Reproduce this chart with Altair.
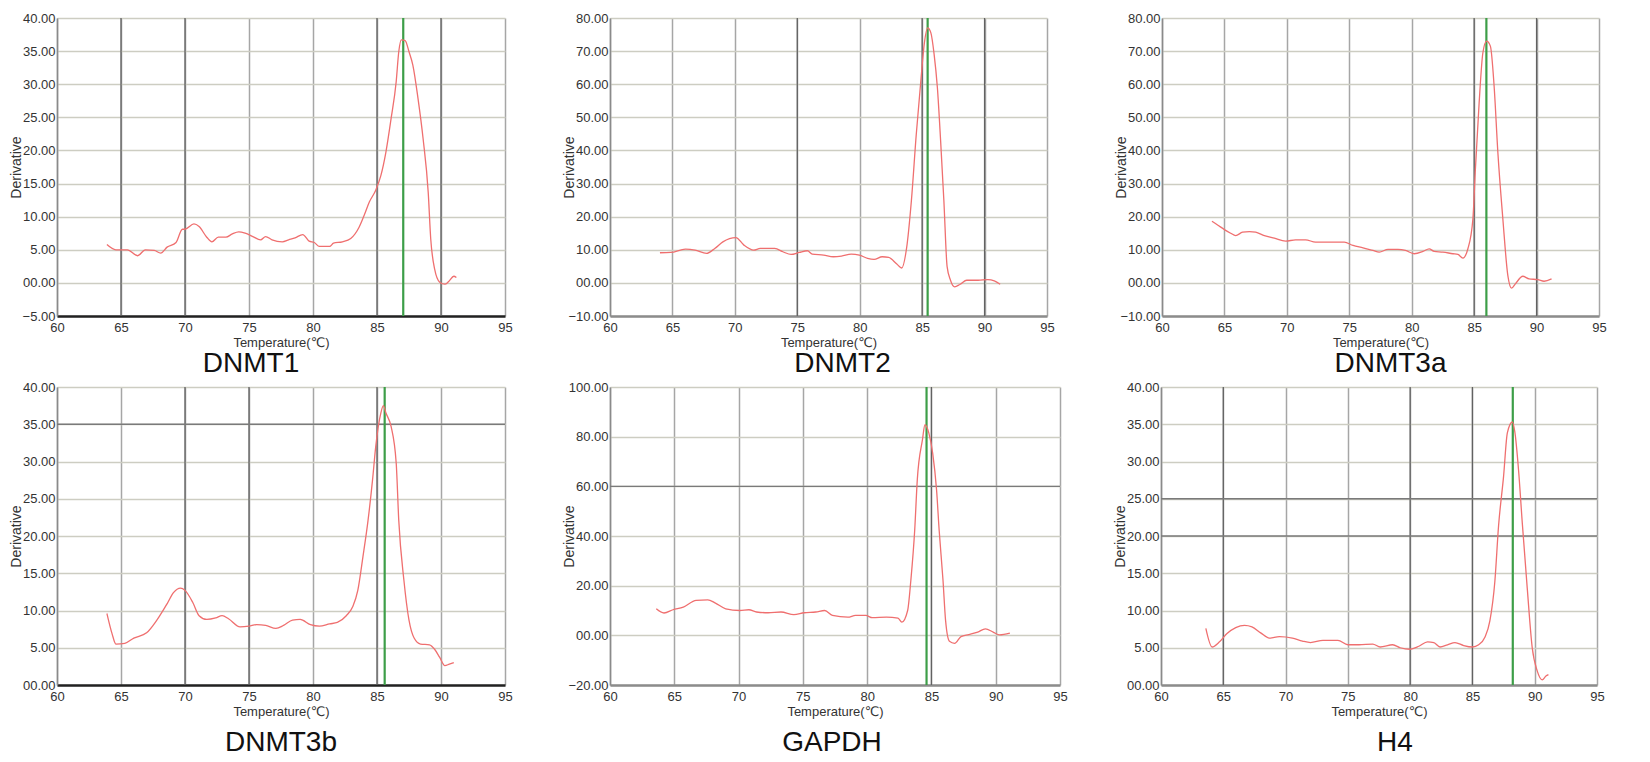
import altair as alt
import pandas as pd

FONT = "Liberation Sans, Arial, DejaVu Sans"

X_TICKS = [60, 65, 70, 75, 80, 85, 90, 95]

# ---------------- DNMT1 ----------------
DNMT1_T = [63.9, 64.6, 65.5, 66.3, 66.9, 67.6, 68.1, 68.6, 69.3, 69.8, 70.0, 70.7, 71.1, 71.7, 72.1,
           72.6, 73.2, 73.7, 74.2, 74.7, 75.3, 75.9, 76.3, 76.8, 77.6, 78.1, 78.6, 79.2, 79.7, 80.1,
           80.5, 81.3, 81.6, 82.3, 82.95, 83.6, 84.0, 84.4, 84.9, 85.3, 85.7, 86.1, 86.5, 86.7, 86.9,
           87.2, 87.5, 87.8, 88.2, 88.6, 89.0, 89.2, 89.5, 89.9, 90.3, 90.6, 91.0, 91.2]
DNMT1_D = [5.8, 5.0, 5.0, 4.1, 5.0, 4.9, 4.5, 5.4, 6.1, 8.1, 8.1, 8.9, 8.5, 6.9, 6.2,
           6.9, 6.9, 7.4, 7.7, 7.5, 7.0, 6.5, 7.0, 6.5, 6.2, 6.5, 6.8, 7.3, 6.3, 6.1,
           5.5, 5.5, 6.0, 6.2, 6.7, 8.4, 10.2, 12.2, 14.0, 16.2, 19.8, 24.8, 30.4, 34.9, 36.7,
           36.6, 34.9, 32.9, 27.9, 21.8, 13.7, 6.6, 2.1, 0.1, -0.2, 0.2, 1.0, 0.8]
DNMT1_PEAK = 87.05
DNMT1_YTICKS = [-5, 0, 5, 10, 15, 20, 25, 30, 35, 40]

# ---------------- DNMT2 ----------------
DNMT2_T = [64.0, 64.87, 66.04, 66.82, 67.73, 68.39, 69.04, 70.08, 70.73, 71.51, 72.03, 73.2, 73.85,
           74.5, 75.16, 75.81, 76.2, 77.11, 77.89, 78.54, 79.32, 79.97, 80.63, 81.15, 81.8, 82.32,
           82.97, 83.36, 83.75, 84.14, 84.53, 84.87, 85.18, 85.44, 85.7, 85.96, 86.22, 86.48, 86.74,
           87.0, 87.27, 87.6, 88.05, 88.57, 89.48, 90.26, 90.78, 91.25]
DNMT2_D = [9.1, 9.2, 10.2, 9.9, 8.9, 10.4, 12.4, 13.7, 11.4, 9.9, 10.4, 10.4, 9.4,
           8.6, 9.2, 9.7, 8.7, 8.4, 7.9, 8.1, 8.7, 8.4, 7.4, 7.1, 7.9, 7.7,
           5.7, 4.5, 10.4, 24.9, 44.9, 59.9, 72.5, 77.0, 75.5, 69.0, 59.0, 42.9, 24.9,
           4.9, 0.8, -1.2, -0.4, 0.8, 0.8, 1.0, 0.6, -0.4]
DNMT2_PEAK = 85.44
DNMT2_YTICKS = [-10, 0, 10, 20, 30, 40, 50, 60, 70, 80]

# ---------------- DNMT3a ----------------
DNMT3A_T = [64.0, 64.45, 65.0, 65.5, 65.9, 66.45, 67.0, 67.5, 68.2, 69.0, 69.9, 70.7, 71.5, 72.3,
            73.4, 74.6, 75.3, 76.1, 76.9, 77.4, 78.1, 78.9, 79.5, 80.2, 80.9, 81.4, 81.8, 82.5,
            83.3, 83.7, 84.1, 84.5, 84.9, 85.1, 85.4, 85.7, 86.0, 86.3, 86.6, 86.9, 87.3, 87.7,
            88.0, 88.3, 88.9, 89.4, 90.1, 90.6, 91.2]
DNMT3A_D = [18.6, 17.5, 16.1, 15.0, 14.3, 15.3, 15.5, 15.3, 14.3, 13.5, 12.6, 13.0, 13.0, 12.3,
            12.3, 12.3, 11.3, 10.6, 9.8, 9.3, 10.1, 10.1, 9.8, 8.8, 9.5, 10.3, 9.5, 9.3,
            8.8, 8.6, 7.5, 10.3, 19.3, 34.3, 54.4, 69.5, 73.0, 71.5, 59.4, 39.4, 19.3, 2.2,
            -1.6, -0.3, 2.0, 1.2, 1.0, 0.5, 1.2]
DNMT3A_PEAK = 85.98
DNMT3A_YTICKS = [-10, 0, 10, 20, 30, 40, 50, 60, 70, 80]

# ---------------- DNMT3b ----------------
DNMT3B_T = [63.9, 64.3, 64.6, 65.3, 66.0, 67.0, 67.8, 68.6, 69.1, 69.65, 70.0, 70.6, 71.1, 71.7,
            72.4, 72.9, 73.4, 74.3, 75.0, 75.6, 76.3, 77.1, 77.7, 78.4, 79.0, 79.8, 80.5, 81.3,
            81.9, 82.6, 83.1, 83.5, 83.9, 84.3, 84.65, 84.9, 85.3, 85.5, 85.7, 86.1, 86.5, 86.7,
            87.1, 87.5, 87.9, 88.4, 89.1, 89.5, 89.9, 90.3, 90.65, 91.0]
DNMT3B_D = [9.6, 6.9, 5.5, 5.6, 6.3, 7.0, 8.7, 10.9, 12.4, 13.0, 12.7, 11.1, 9.3, 8.8,
            9.0, 9.3, 8.9, 7.8, 7.9, 8.1, 8.0, 7.6, 8.0, 8.7, 8.8, 8.1, 7.9, 8.2,
            8.4, 9.3, 10.5, 12.7, 17.2, 22.1, 27.5, 32.0, 36.5, 37.5, 36.5, 34.7, 29.8, 22.1,
            14.1, 8.7, 6.3, 5.5, 5.4, 4.8, 3.7, 2.6, 2.8, 3.0]
DNMT3B_PEAK = 85.6
DNMT3B_YTICKS = [0, 5, 10, 15, 20, 25, 30, 35, 40]

# ---------------- GAPDH ----------------
GAPDH_T = [63.6, 64.2, 64.9, 65.7, 66.7, 67.6, 68.2, 69.0, 70.1, 70.8, 71.4, 72.3, 73.3, 74.3,
           75.1, 76.0, 76.7, 77.3, 78.5, 79.1, 79.9, 80.4, 81.5, 82.4, 82.7, 83.15, 83.4, 83.7,
           83.9, 84.3, 84.5, 84.8, 85.1, 85.4, 85.6, 85.9, 86.1, 86.4, 86.8, 87.3, 87.9, 88.6,
           89.2, 89.8, 90.3, 91.1]
GAPDH_D = [10.7, 9.0, 10.3, 11.4, 14.1, 14.3, 13.0, 10.7, 10.0, 10.3, 9.4, 9.1, 9.4, 8.3,
           9.1, 9.4, 10.0, 8.0, 7.3, 8.0, 8.0, 7.1, 7.3, 6.9, 5.3, 10.0, 22.2, 42.4,
           62.6, 78.7, 84.8, 81.4, 73.3, 58.5, 42.4, 22.2, 6.0, -2.4, -3.2, -0.5, 0.3, 1.3,
           2.6, 1.3, 0.2, 0.9]
GAPDH_PEAK = 84.62
GAPDH_YTICKS = [-20, 0, 20, 40, 60, 80, 100]

# ---------------- H4 ----------------
H4_T = [63.6, 64.1, 64.7, 65.3, 66.0, 66.7, 67.3, 68.0, 68.7, 69.5, 70.55, 71.35, 72.0, 73.0,
        74.2, 75.0, 75.9, 77.0, 77.6, 78.6, 79.2, 80.0, 80.7, 81.4, 81.9, 82.4, 83.0, 83.6,
        84.3, 85.0, 85.5, 86.0, 86.4, 86.8, 87.1, 87.5, 87.8, 88.2, 88.4, 88.7, 89.0, 89.4,
        89.8, 90.2, 90.6, 90.9, 91.1]
H4_D = [7.6, 5.1, 5.8, 6.9, 7.7, 8.0, 7.8, 7.0, 6.3, 6.5, 6.3, 5.9, 5.7, 6.0,
        6.0, 5.4, 5.4, 5.5, 5.1, 5.4, 5.0, 4.8, 5.2, 5.8, 5.7, 5.1, 5.4, 5.7,
        5.3, 5.1, 5.4, 6.4, 8.6, 13.9, 21.4, 28.0, 33.8, 35.3, 34.0, 28.9, 21.8, 13.0,
        5.0, 1.9, 0.7, 1.2, 1.4]
H4_PEAK = 88.24
H4_YTICKS = [0, 5, 10, 15, 20, 25, 30, 35, 40]

# darker grid lines seen in each panel of the original image
DARK_X = {"DNMT1": [65, 70, 85, 90], "DNMT2": [75, 85, 90], "DNMT3a": [85, 90],
          "DNMT3b": [70, 75, 85], "GAPDH": [85], "H4": [65, 80, 85]}
DARK_Y = {"DNMT1": [], "DNMT2": [], "DNMT3a": [], "DNMT3b": [35], "GAPDH": [60], "H4": [20, 25]}
# colour of the bottom axis line in each panel
BOTTOM_AXIS = {"DNMT1": "#222222", "DNMT2": "#8c8c8c", "DNMT3a": "#8c8c8c",
               "DNMT3b": "#222222", "GAPDH": "#8c8c8c", "H4": "#8c8c8c"}

LABEL_EXPR = "datum.value == 0 ? '00.00' : format(datum.value, '.2f')"


def panel(name, temps, derivs, peak, yticks, width, height, title_dx, title_offset):
    data = pd.DataFrame({"t": temps, "d": derivs})
    xenc = alt.X(
        "t:Q",
        scale=alt.Scale(domain=[60, 95], nice=False, zero=False),
        axis=alt.Axis(values=X_TICKS, title="Temperature(℃)", grid=True, gridColor="#a6a6a6",
                      gridWidth=1.5, labelFlush=False, ticks=False, domainColor=BOTTOM_AXIS[name],
                      domainWidth=2.5, labelPadding=5, titlePadding=2, labelFontSize=13,
                      titleFontSize=13),
    )
    yenc = alt.Y(
        "d:Q",
        scale=alt.Scale(domain=[yticks[0], yticks[-1]], nice=False, zero=False),
        axis=alt.Axis(values=yticks, title="Derivative", labelExpr=LABEL_EXPR, grid=True,
                      gridColor="#cdcdc2", gridWidth=1.5, ticks=False, domainColor="#8a8a8a",
                      domainWidth=1.5, minExtent=34, maxExtent=34, titlePadding=0,
                      labelPadding=2, labelFontSize=13, titleFontSize=14),
    )
    layers = [
        alt.Chart(pd.DataFrame({"t": DARK_X[name]})).mark_rule(color="#626262", strokeWidth=1.3)
        .encode(x=xenc)
    ]
    if DARK_Y[name]:
        layers.append(
            alt.Chart(pd.DataFrame({"d": DARK_Y[name]})).mark_rule(color="#7a7a7a", strokeWidth=1.3)
            .encode(y=yenc)
        )
    layers.append(
        alt.Chart(pd.DataFrame({"t": [peak]})).mark_rule(color="#3d9e48", strokeWidth=2.2)
        .encode(x=xenc)
    )
    layers.append(
        alt.Chart(data).mark_line(color="#ef6f6f", strokeWidth=1.3, interpolate="monotone")
        .encode(x=xenc, y=yenc)
    )
    return alt.layer(*layers).properties(
        width=width,
        height=height,
        title=alt.TitleParams(text=name, orient="bottom", anchor="middle", frame="group",
                              fontSize=28, font=FONT, fontWeight="normal", color="#111",
                              dx=title_dx, offset=title_offset),
    )


p1 = panel("DNMT1", DNMT1_T, DNMT1_D, DNMT1_PEAK, DNMT1_YTICKS, 448, 298, -30, 1)
p2 = panel("DNMT2", DNMT2_T, DNMT2_D, DNMT2_PEAK, DNMT2_YTICKS, 437, 298, 14, 1)
p3 = panel("DNMT3a", DNMT3A_T, DNMT3A_D, DNMT3A_PEAK, DNMT3A_YTICKS, 437, 298, 10, 1)
p4 = panel("DNMT3b", DNMT3B_T, DNMT3B_D, DNMT3B_PEAK, DNMT3B_YTICKS, 448, 298, 0, 11)
p5 = panel("GAPDH", GAPDH_T, GAPDH_D, GAPDH_PEAK, GAPDH_YTICKS, 450, 298, -3, 11)
p6 = panel("H4", H4_T, H4_D, H4_PEAK, H4_YTICKS, 436, 298, 16, 11)

top = alt.hconcat(alt.hconcat(p1, p2, spacing=48), p3, spacing=58)
bottom = alt.hconcat(alt.hconcat(p4, p5, spacing=48), p6, spacing=44)

chart = alt.vconcat(top, bottom, spacing=1).properties(
    padding={"left": 0, "top": 3, "right": 5, "bottom": 5}
).configure_axis(
    labelFont=FONT, titleFont=FONT, labelColor="#333", titleColor="#333",
    titleFontWeight="normal",
).configure_view(stroke="transparent")

chart.save("out.html", embed_options={"renderer": "svg", "actions": False})
